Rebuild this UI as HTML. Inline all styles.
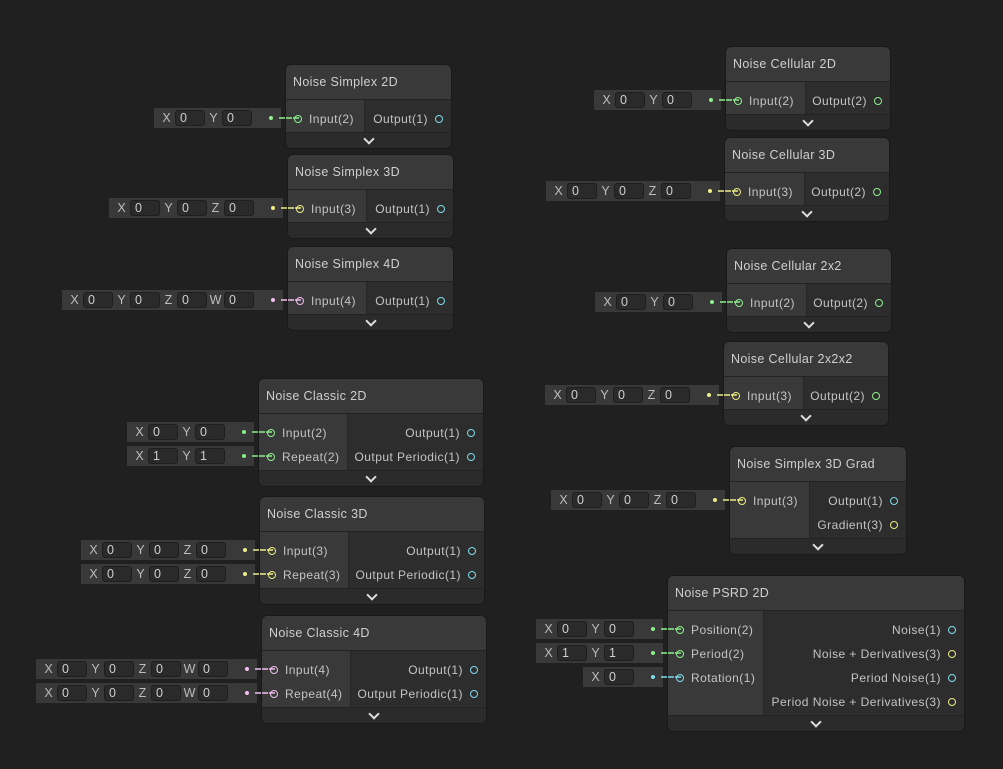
<!DOCTYPE html>
<html><head><meta charset="utf-8"><style>
*{box-sizing:border-box;margin:0;padding:0}
body{width:1003px;height:769px;background:#202020;position:relative;overflow:hidden;font-family:"Liberation Sans","DejaVu Sans",sans-serif;font-size:12px;color:#c4c4c4;letter-spacing:0.45px}
.n{position:absolute;z-index:1;background:#2e2e2e;border:1px solid #191919;border-radius:6px;overflow:hidden}
.h{height:35px;line-height:34px;padding-left:7px;background:#393939;color:#cfcfcf;font-size:12.5px;border-bottom:1px solid #232323;letter-spacing:0.35px}
.b{display:flex}
.i{background:#393939;padding:7px 0 1px;border-right:1px solid #262626}
.o{flex:1;background:#2d2d2d;padding:7px 0 1px}
.r{height:24px;line-height:24px;position:relative;white-space:nowrap}
.i .r{padding-left:23px}
.o .r{padding-right:23px;text-align:right}
.p{position:absolute;top:8px;width:8px;height:8px;border-radius:50%;border:1.5px solid}
.i .p{left:8px}.o .p{right:8px}
.f{height:16px;background:#2b2b2b;border-top:1px solid #232323;position:relative}
.f:after{content:"";position:absolute;left:50%;top:2px;width:6px;height:6px;margin-left:-4px;border-right:2px solid #ddd;border-bottom:2px solid #ddd;transform:rotate(45deg)}
.g{--c:#8ef08e}.y{--c:#eded86}.k{--c:#f0bff0}.c{--c:#7fdcec}
.p{border-color:var(--c)}
.v{position:absolute;z-index:5;height:20px;background:#393939;display:flex;align-items:center;padding-left:4px;padding-right:29px;letter-spacing:0}
.v span{width:17px;text-align:center;color:#bdbdbd;font-size:12.5px}
.v b{font-weight:normal;width:30px;height:16px;line-height:14px;background:#2a2a2a;border:1px solid #1e1e1e;border-radius:3px;padding-left:4px;color:#cfcfcf;font-size:12.5px}
.v:before{content:"";position:absolute;right:8px;top:8px;width:4px;height:4px;border-radius:50%;background:var(--c)}
.v:after{content:"";position:absolute;right:-18px;top:9px;width:20px;border-top:2px dashed var(--c);opacity:.75}
</style></head><body>

<div class="v g" style="left:154px;top:108px"><span>X</span><b>0</b><span>Y</span><b>0</b></div>
<div class="v y" style="left:109px;top:198px"><span>X</span><b>0</b><span>Y</span><b>0</b><span>Z</span><b>0</b></div>
<div class="v k" style="left:62px;top:290px"><span>X</span><b>0</b><span>Y</span><b>0</b><span>Z</span><b>0</b><span>W</span><b>0</b></div>
<div class="v g" style="left:127px;top:422px"><span>X</span><b>0</b><span>Y</span><b>0</b></div>
<div class="v g" style="left:127px;top:446px"><span>X</span><b>1</b><span>Y</span><b>1</b></div>
<div class="v y" style="left:81px;top:540px"><span>X</span><b>0</b><span>Y</span><b>0</b><span>Z</span><b>0</b></div>
<div class="v y" style="left:81px;top:564px"><span>X</span><b>0</b><span>Y</span><b>0</b><span>Z</span><b>0</b></div>
<div class="v k" style="left:36px;top:659px"><span>X</span><b>0</b><span>Y</span><b>0</b><span>Z</span><b>0</b><span>W</span><b>0</b></div>
<div class="v k" style="left:36px;top:683px"><span>X</span><b>0</b><span>Y</span><b>0</b><span>Z</span><b>0</b><span>W</span><b>0</b></div>
<div class="v g" style="left:594px;top:90px"><span>X</span><b>0</b><span>Y</span><b>0</b></div>
<div class="v y" style="left:546px;top:181px"><span>X</span><b>0</b><span>Y</span><b>0</b><span>Z</span><b>0</b></div>
<div class="v g" style="left:595px;top:292px"><span>X</span><b>0</b><span>Y</span><b>0</b></div>
<div class="v y" style="left:545px;top:385px"><span>X</span><b>0</b><span>Y</span><b>0</b><span>Z</span><b>0</b></div>
<div class="v y" style="left:551px;top:490px"><span>X</span><b>0</b><span>Y</span><b>0</b><span>Z</span><b>0</b></div>
<div class="v g" style="left:536px;top:619px"><span>X</span><b>0</b><span>Y</span><b>0</b></div>
<div class="v g" style="left:536px;top:643px"><span>X</span><b>1</b><span>Y</span><b>1</b></div>
<div class="v c" style="left:583px;top:667px"><span>X</span><b>0</b></div>

<div class="n" style="left:285px;top:64px;width:167px"><div class="h">Noise Simplex 2D</div><div class="b"><div class="i" style="width:79px"><div class="r g"><i class="p"></i>Input(2)</div></div><div class="o"><div class="r c"><i class="p"></i>Output(1)</div></div></div><div class="f"></div></div>

<div class="n" style="left:287px;top:154px;width:167px"><div class="h">Noise Simplex 3D</div><div class="b"><div class="i" style="width:79px"><div class="r y"><i class="p"></i>Input(3)</div></div><div class="o"><div class="r c"><i class="p"></i>Output(1)</div></div></div><div class="f"></div></div>

<div class="n" style="left:287px;top:246px;width:167px"><div class="h">Noise Simplex 4D</div><div class="b"><div class="i" style="width:79px"><div class="r k"><i class="p"></i>Input(4)</div></div><div class="o"><div class="r c"><i class="p"></i>Output(1)</div></div></div><div class="f"></div></div>

<div class="n" style="left:258px;top:378px;width:226px"><div class="h">Noise Classic 2D</div><div class="b"><div class="i" style="width:89px"><div class="r g"><i class="p"></i>Input(2)</div><div class="r g"><i class="p"></i>Repeat(2)</div></div><div class="o"><div class="r c"><i class="p"></i>Output(1)</div><div class="r c"><i class="p"></i>Output Periodic(1)</div></div></div><div class="f"></div></div>

<div class="n" style="left:259px;top:496px;width:226px"><div class="h">Noise Classic 3D</div><div class="b"><div class="i" style="width:89px"><div class="r y"><i class="p"></i>Input(3)</div><div class="r y"><i class="p"></i>Repeat(3)</div></div><div class="o"><div class="r c"><i class="p"></i>Output(1)</div><div class="r c"><i class="p"></i>Output Periodic(1)</div></div></div><div class="f"></div></div>

<div class="n" style="left:261px;top:615px;width:226px"><div class="h">Noise Classic 4D</div><div class="b"><div class="i" style="width:89px"><div class="r k"><i class="p"></i>Input(4)</div><div class="r k"><i class="p"></i>Repeat(4)</div></div><div class="o"><div class="r c"><i class="p"></i>Output(1)</div><div class="r c"><i class="p"></i>Output Periodic(1)</div></div></div><div class="f"></div></div>

<div class="n" style="left:725px;top:46px;width:166px"><div class="h">Noise Cellular 2D</div><div class="b"><div class="i" style="width:80px"><div class="r g"><i class="p"></i>Input(2)</div></div><div class="o"><div class="r g"><i class="p"></i>Output(2)</div></div></div><div class="f"></div></div>

<div class="n" style="left:724px;top:137px;width:166px"><div class="h">Noise Cellular 3D</div><div class="b"><div class="i" style="width:80px"><div class="r y"><i class="p"></i>Input(3)</div></div><div class="o"><div class="r g"><i class="p"></i>Output(2)</div></div></div><div class="f"></div></div>

<div class="n" style="left:726px;top:248px;width:166px"><div class="h">Noise Cellular 2x2</div><div class="b"><div class="i" style="width:80px"><div class="r g"><i class="p"></i>Input(2)</div></div><div class="o"><div class="r g"><i class="p"></i>Output(2)</div></div></div><div class="f"></div></div>

<div class="n" style="left:723px;top:341px;width:166px"><div class="h">Noise Cellular 2x2x2</div><div class="b"><div class="i" style="width:80px"><div class="r y"><i class="p"></i>Input(3)</div></div><div class="o"><div class="r g"><i class="p"></i>Output(2)</div></div></div><div class="f"></div></div>

<div class="n" style="left:729px;top:446px;width:178px"><div class="h">Noise Simplex 3D Grad</div><div class="b"><div class="i" style="width:80px"><div class="r y"><i class="p"></i>Input(3)</div></div><div class="o"><div class="r c"><i class="p"></i>Output(1)</div><div class="r y"><i class="p"></i>Gradient(3)</div></div></div><div class="f"></div></div>

<div class="n" style="left:667px;top:575px;width:298px"><div class="h">Noise PSRD 2D</div><div class="b"><div class="i" style="width:96px"><div class="r g"><i class="p"></i>Position(2)</div><div class="r g"><i class="p"></i>Period(2)</div><div class="r c"><i class="p"></i>Rotation(1)</div><div class="r"></div></div><div class="o"><div class="r c"><i class="p"></i>Noise(1)</div><div class="r y"><i class="p"></i>Noise + Derivatives(3)</div><div class="r c"><i class="p"></i>Period Noise(1)</div><div class="r y"><i class="p"></i>Period Noise + Derivatives(3)</div></div></div><div class="f"></div></div>

</body></html>
